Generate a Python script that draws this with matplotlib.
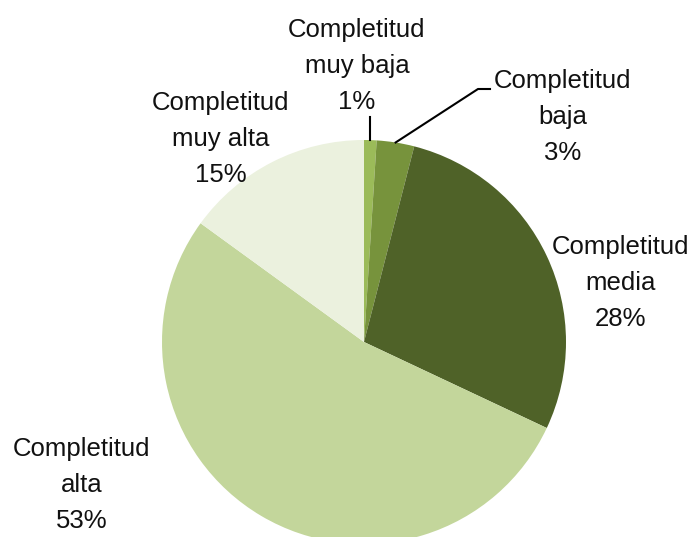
import numpy as np
import matplotlib
matplotlib.use("Agg")
import matplotlib.pyplot as plt

# slices, clockwise from 12 o'clock
categories = ["Completitud\nmuy baja", "Completitud\nbaja", "Completitud\nmedia",
              "Completitud\nalta", "Completitud\nmuy alta"]
shares = [1, 3, 28, 53, 15]
colors = ["#9BBB59", "#77933C", "#4F6228", "#C3D69B", "#EBF1DE"]

# label centres in pixels (origin top-left of the 694x537 image)
label_pos = [(357, 66), (563, 117), (621, 283), (82, 485), (221, 139)]

W, H = 694, 537
cx, cy, r = 364, 342, 202

plt.rcParams["font.family"] = ["Liberation Sans", "DejaVu Sans"]

fig = plt.figure(figsize=(W / 100, H / 100), dpi=100)
ax = fig.add_axes([0, 0, 1, 1])

def px(x, y):
    return x, H - y

wedges, _ = ax.pie(shares, colors=colors, startangle=90, counterclock=False,
                   center=px(cx, cy), radius=r,
                   wedgeprops=dict(linewidth=0), frame=True)
ax.set_xlim(0, W)
ax.set_ylim(0, H)
ax.set_aspect("equal")
ax.axis("off")

for lab, val, (lx, ly) in zip(categories, shares, label_pos):
    ax.text(*px(lx, ly), f"{lab}\n{val}%", ha="center", va="center",
            fontsize=18.5, linespacing=1.65, color="#111111")

# leader lines for the two thin slices
def edge_point(w):
    a = np.deg2rad((w.theta1 + w.theta2) / 2)
    return cx + r * np.cos(a), cy - r * np.sin(a)

x0, y0 = edge_point(wedges[0])
ax.plot([x0, x0], [H - y0, H - 117], color="black", lw=1.5)
x1, y1 = edge_point(wedges[1])
ax.plot([x1, 478, 490], [H - y1, H - 89, H - 89], color="black", lw=1.5)

fig.savefig("out.png", dpi=100)
